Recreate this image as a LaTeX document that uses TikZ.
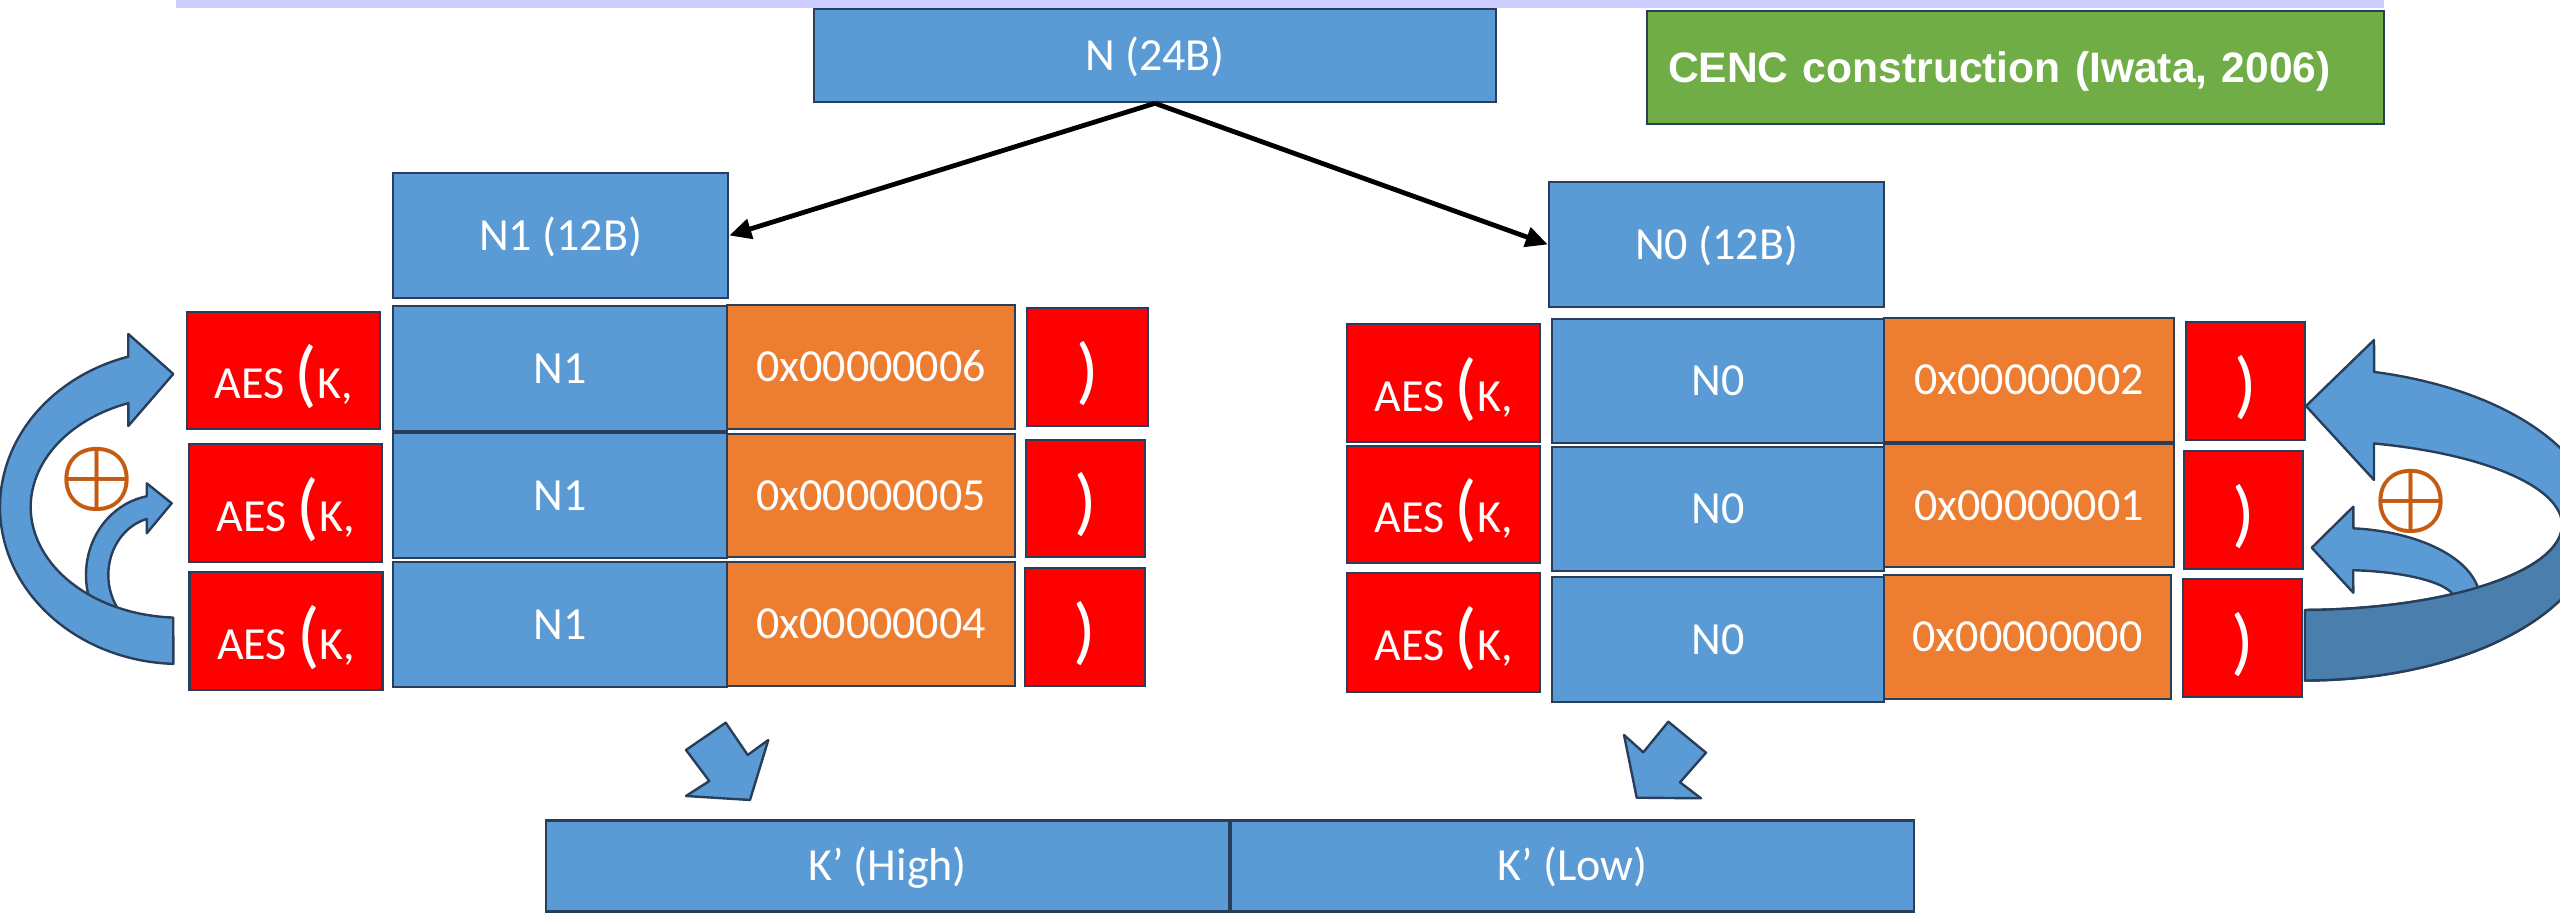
\documentclass[tikz,border=0pt]{standalone}
\usepackage{fontspec}
\usepackage{graphicx}
\setmainfont{Carlito}
\newfontfamily\titlefont{Liberation Sans}
\usetikzlibrary{arrows.meta}
\definecolor{boxblue}{HTML}{5B9BD5}
\definecolor{boxedge}{HTML}{283E5A}
\definecolor{boxorange}{HTML}{ED7D31}
\definecolor{boxred}{HTML}{FF0000}
\definecolor{boxgreen}{HTML}{70AD47}
\definecolor{barlav}{HTML}{CCCCFF}
\definecolor{xorcol}{HTML}{C55A11}
\definecolor{bandback}{HTML}{4A7EAD}
\newcommand\tallparen[1]{{\fontsize{37}{37}\selectfont #1}}
\newcommand\bigxor{\scalebox{4.2}{$\boldsymbol{\oplus}$}}
\providecommand\boldsymbol[1]{\mbox{\boldmath$#1$}}

\begin{document}
\begin{tikzpicture}[x=0.5pt,y=-0.5pt,
  sz/.style 2 args={minimum width=#1*0.5pt, minimum height=#2*0.5pt},
  box/.style={draw=boxedge, line width=1.3pt, inner sep=0pt, text=white,
    font=\fontsize{23}{28}\selectfont, text height=14.8pt, text depth=0pt},
  bluebox/.style={box, fill=boxblue},
  orangebox/.style={box, fill=boxorange},
  aesbox/.style={box, fill=boxred, text height=28.5pt},
  closebox/.style={box, fill=boxred, text height=28.5pt},
  titlebox/.style={box, fill=boxgreen, font=\titlefont\bfseries\fontsize{21.3}{26}\selectfont,
    text height=15.25pt, align=left, inner xsep=10.5pt, text width=347.5pt},
  link/.style={draw=black, line width=2.4pt, -{Triangle[length=11pt,width=10pt]}},
  blockarrow/.style={fill=boxblue, draw=boxedge, line width=1.2pt, line join=round},
  backband/.style={blockarrow, fill=bandback},
  xor/.style={text=xorcol, inner sep=0pt}
]
\useasboundingbox (0,0) rectangle (2560,913);
\clip (0,0) rectangle (2560,913);

% top rule
\fill[barlav] (176,0) rectangle (2384,8);

% nonce and its halves
\node[bluebox, sz={682}{93}] (N) at (1155,55.5) {N (24B)};
\node[titlebox, sz={737}{113}] (cenc) at (2015.5,67.5) {CENC construction (Iwata, 2006)};
\node[bluebox, sz={335}{125}] (N1) at (560.5,235.5) {N1 (12B)};
\node[bluebox, sz={335}{125}] (N0) at (1716.5,244.5) {N0 (12B)};

\draw[link] (N.south) -- (N1.east);
\draw[link] (N.south) -- (N0.west);

% left stack: counters 6,5,4
\node[aesbox, sz={193}{117}] (aesL1) at (283.5,370.5) {AES \tallparen{(}K,};
\node[aesbox, sz={193}{118}] (aesL2) at (285.5,503) {AES \tallparen{(}K,};
\node[aesbox, sz={193}{118}] (aesL3) at (286,631) {AES \tallparen{(}K,};
\node[bluebox, sz={334}{125}] (nL1) at (560,368.5) {N1};
\node[bluebox, sz={334}{125}] (nL2) at (560,495.5) {N1};
\node[bluebox, sz={334}{125}] (nL3) at (560,624.5) {N1};
\node[orangebox, sz={288}{124}] (cL1) at (871,367) {0x00000006};
\node[orangebox, sz={288}{123}] (cL2) at (871,495.5) {0x00000005};
\node[orangebox, sz={288}{124}] (cL3) at (871,624) {0x00000004};
\node[closebox, sz={121}{118}] (pL1) at (1087.5,367) {\tallparen{)}};
\node[closebox, sz={119}{117}] (pL2) at (1085.5,498.5) {\tallparen{)}};
\node[closebox, sz={120}{118}] (pL3) at (1085,627) {\tallparen{)}};

% right stack: counters 2,1,0
\node[aesbox, sz={193}{118}] (aesR1) at (1443.5,383) {AES \tallparen{(}K,};
\node[aesbox, sz={193}{117}] (aesR2) at (1443.5,504.5) {AES \tallparen{(}K,};
\node[aesbox, sz={193}{119}] (aesR3) at (1443.5,632.5) {AES \tallparen{(}K,};
\node[bluebox, sz={332}{124}] (nR1) at (1718,381) {N0};
\node[bluebox, sz={332}{124}] (nR2) at (1718,509) {N0};
\node[bluebox, sz={332}{125}] (nR3) at (1718,639.5) {N0};
\node[orangebox, sz={290}{124}] (cR1) at (2029,380) {0x00000002};
\node[orangebox, sz={290}{123}] (cR2) at (2029,505.5) {0x00000001};
\node[orangebox, sz={287}{124}] (cR3) at (2027.5,637) {0x00000000};
\node[closebox, sz={119}{118}] (pR1) at (2245.5,381) {\tallparen{)}};
\node[closebox, sz={119}{118}] (pR2) at (2243.5,510) {\tallparen{)}};
\node[closebox, sz={119}{118}] (pR3) at (2242.5,638) {\tallparen{)}};

% left curved arrows (small one sits under the large one)
\begin{scope}[shift={(160,575)}]
  \draw[blockarrow] (135:74 and 80) arc[start angle=135, end angle=259.65, x radius=74, y radius=80]
    -- (-13.3,-91.7) -- (11.7,-71.7) -- (-13.3,-41.7)
    -- (255.1:51.7 and 58) arc[start angle=255.1, end angle=125, x radius=51.7, y radius=58] -- cycle;
\end{scope}
\begin{scope}[shift={(180,507)}]
  \draw[blockarrow] (92.1:180 and 157) arc[start angle=92.1, end angle=253.3, x radius=180, y radius=157]
    -- (-51.7,-173) -- (-6.7,-133) -- (-51.7,-81)
    -- (249.8:149.3 and 110.7) arc[start angle=249.8, end angle=92.6, x radius=149.3, y radius=110.7] -- cycle;
\end{scope}

% right curved arrows: front face, small arrow, then back face on top
\begin{scope}[shift={(2305,524)}]
  \draw[blockarrow] (69,-184) -- (1,-118) -- (69,-44)
    -- ([shift={(-5,1)}]-73.6:262 and 85) arc[start angle=-73.6, end angle=88.9, x radius=262, y radius=85]
    -- (90:292 and 156.5) arc[start angle=90, end angle=-76.3, x radius=292, y radius=156.5] -- cycle;
\end{scope}
\begin{scope}[shift={(2340,600)}]
  \draw[blockarrow] (13.3,-93.3) -- (-28.3,-52.3) -- (13.3,-7.3)
    -- (-83.4:115 and 30) arc[start angle=-83.4, end angle=0, x radius=115, y radius=30]
    -- (15:140 and 72) arc[start angle=15, end angle=-84.5, x radius=140, y radius=72] -- cycle;
\end{scope}
\begin{scope}[shift={(2305,524)}]
  \draw[backband] ([shift={(-5,1)}]0:262 and 85) arc[start angle=0, end angle=88.9, x radius=262, y radius=85]
    -- (90:292 and 156.5) arc[start angle=90, end angle=0, x radius=292, y radius=156.5] -- cycle;
\end{scope}

\node[xor] (xorL) at (97.3,479.3) {\bigxor};
\node[xor] (xorR) at (2411.2,501.7) {\bigxor};

% block arrows down to the derived key
\draw[blockarrow] (725.7,722.7) -- (747.7,755) -- (768.3,740) -- (750,800) -- (686,796) -- (709.3,781) -- (686,750) -- cycle;
\draw[blockarrow] (1668.3,721.7) -- (1706,752.7) -- (1680,782.3) -- (1701,798.3) -- (1636.7,797.7) -- (1624,735) -- (1643.3,752.3) -- cycle;

% derived key
\node[bluebox, sz={683}{91}] (kH) at (887.5,866) {K’ (High)};
\node[bluebox, sz={683}{91}] (kL) at (1572.5,866) {K’ (Low)};
\end{tikzpicture}
\end{document}
